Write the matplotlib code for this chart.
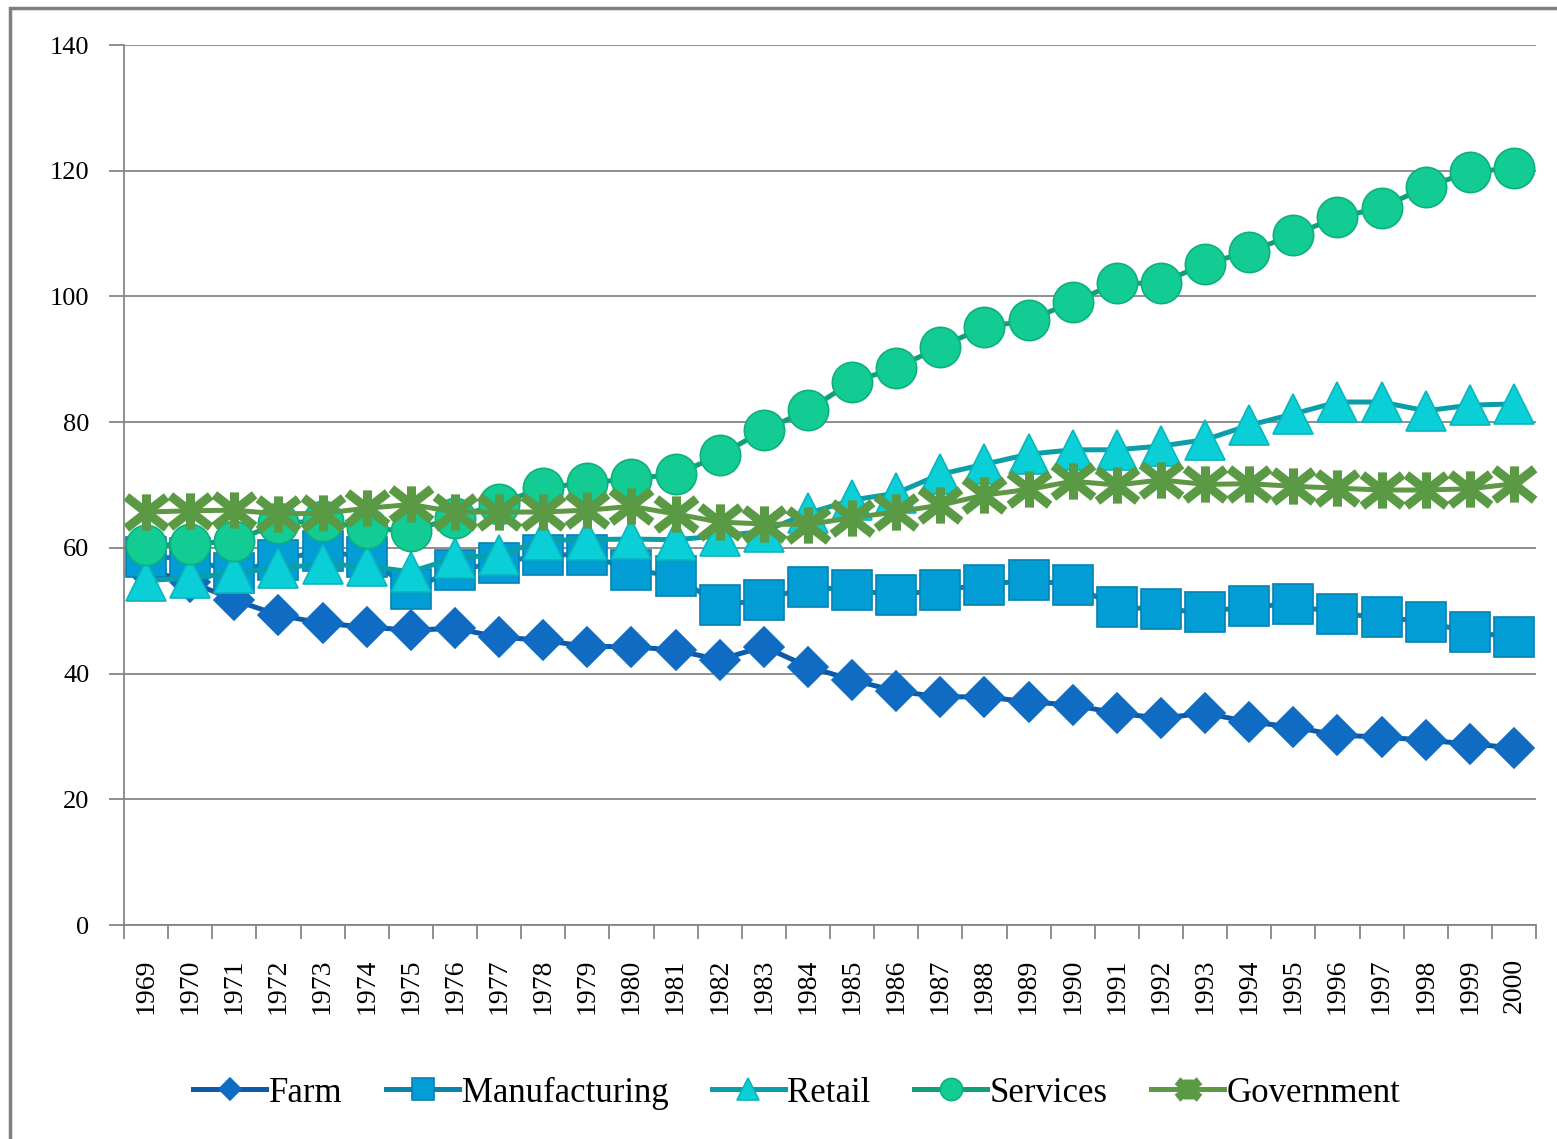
import matplotlib

matplotlib.use("Agg")
import matplotlib.pyplot as plt
from matplotlib.path import Path
from matplotlib.patches import Rectangle

plt.rcParams["font.family"] = ["Liberation Serif", "DejaVu Serif"]

years = [str(y) for y in range(1969, 2001)]

farm = [56.5, 54.6, 51.7, 49.3, 48.0, 47.4, 46.9, 47.2, 45.8, 45.3, 44.3, 44.3,
        43.7, 42.2, 44.3, 41.1, 39.0, 37.2, 36.3, 36.3, 35.5, 35.0, 33.7, 32.9,
        33.7, 32.3, 31.5, 30.2, 29.9, 29.4, 28.8, 28.2]
manufacturing = [58.5, 58.4, 56.0, 58.1, 59.5, 58.5, 53.4, 56.5, 57.6, 58.9, 58.9, 56.5,
                 55.5, 50.9, 51.7, 53.8, 53.3, 52.5, 53.3, 54.1, 54.9, 54.1, 50.6, 50.2,
                 49.8, 50.7, 51.0, 49.5, 49.0, 48.2, 46.6, 45.8]
retail = [54.8, 55.2, 56.0, 56.8, 57.4, 57.1, 56.2, 58.4, 58.9, 61.2, 61.3, 61.4,
          61.3, 61.9, 62.6, 65.5, 67.6, 68.7, 71.7, 73.3, 74.9, 75.6, 75.6, 76.2,
          77.2, 79.5, 81.3, 83.2, 83.2, 81.8, 82.7, 82.9]
services = [60.4, 60.6, 61.1, 63.9, 64.3, 63.1, 62.7, 64.8, 67.0, 69.6, 70.3, 71.0,
            71.7, 74.7, 78.7, 81.9, 86.4, 88.6, 92.0, 95.1, 96.2, 99.1, 102.1, 102.1,
            105.2, 107.1, 109.8, 112.6, 114.1, 117.4, 119.8, 120.4]
government = [65.7, 65.9, 66.0, 65.4, 65.5, 66.3, 66.9, 65.7, 65.7, 65.7, 66.0, 66.6,
              65.4, 64.1, 63.8, 63.7, 64.8, 65.7, 66.8, 68.4, 69.3, 70.6, 70.0, 70.8,
              70.1, 70.2, 69.8, 69.5, 69.2, 69.2, 69.4, 70.2]

# asterisk marker: vertical bar plus a flattened X
asterisk = Path(
    [(0, -0.9), (0, 0.9), (-1, -0.78), (1, 0.78), (-1, 0.78), (1, -0.78)],
    [Path.MOVETO, Path.LINETO, Path.MOVETO, Path.LINETO, Path.MOVETO, Path.LINETO],
)

series = [
    ("Farm", farm, dict(marker="D", ms=20, mfc="#0F6CC2", mec="#0F6CC2", color="#0D5AA7")),
    ("Manufacturing", manufacturing, dict(marker="s", ms=28.5, mfc="#019DD4", mec="#0582B4", color="#0A84A8")),
    ("Retail", retail, dict(marker="^", ms=29, mfc="#0ACFD6", mec="#09B5BE", color="#0A9EA8")),
    ("Services", services, dict(marker="o", ms=29, mfc="#12CC94", mec="#0EAF7E", color="#0FA07A")),
    ("Government", government, dict(marker=asterisk, ms=29, mfc="#5B9A44", mec="#5B9A44",
                                    mew=6.5, color="#5E9845")),
]

fig = plt.figure(figsize=(15.57, 11.39), dpi=100)
ax = fig.add_axes([124 / 1557, 1 - 925 / 1139, (1536 - 124) / 1557, (925 - 45) / 1139])

x = list(range(len(years)))
handles = []
for name, vals, style in series:
    kw = dict(style)
    mew = kw.pop("mew", 1.2)
    (h,) = ax.plot(x, vals, lw=3.6, mew=mew, label=name, clip_on=False, **kw)
    handles.append(h)

ax.set_xlim(-0.5, len(years) - 0.5)
ax.set_ylim(0, 140)
ax.set_yticks(range(0, 141, 20))
ax.tick_params(axis="y", length=11, width=1.3, color="#868686", labelsize=19, pad=14)
ax.yaxis.grid(True, color="#868686", lw=1.3)
ax.set_axisbelow(True)

ax.set_xticks([i - 0.5 for i in range(len(years) + 1)])
ax.set_xticklabels([])
ax.tick_params(axis="x", which="major", length=10, width=1.3, color="#868686")
ax.set_xticks(x, minor=True)
ax.set_xticklabels(years, minor=True, rotation=90, fontsize=20)
ax.tick_params(axis="x", which="minor", length=0, pad=24)

for side in ["top", "right"]:
    ax.spines[side].set_visible(False)
for side in ["left", "bottom"]:
    ax.spines[side].set_color("#868686")
    ax.spines[side].set_linewidth(1.3)

leg = fig.legend(handles=handles, loc="center", bbox_to_anchor=(0.512, 1 - 1093 / 1139), ncol=5,
                 frameon=False, fontsize=25, handlelength=2.1, handletextpad=0.08,
                 columnspacing=1.25, markerscale=0.55)

fig.patches.append(Rectangle((10 / 1557, -0.1), 1.2, 1 - 8 / 1139 + 0.1, transform=fig.transFigure,
                             fill=False, ec="#7F7F7F", lw=2.5))

fig.savefig("out.png", dpi=100, facecolor="white")
